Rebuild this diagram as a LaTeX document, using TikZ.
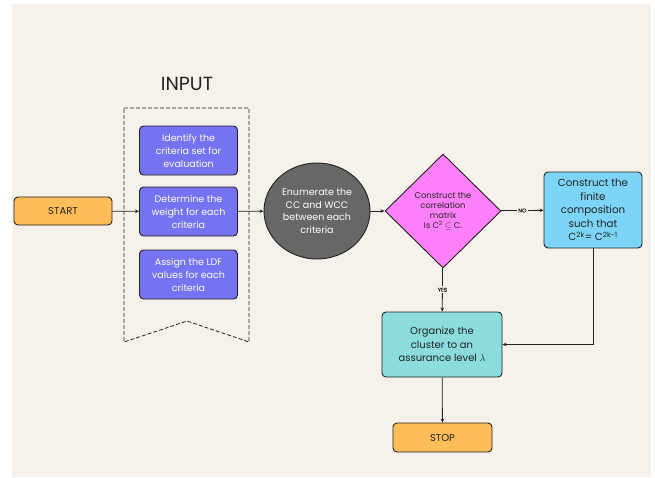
\documentclass[tikz,border=0pt]{standalone}
\usepackage{fontspec}
\setmainfont{Poppins}[AutoFakeBold=0.4]
\usetikzlibrary{shapes.geometric,arrows.meta}
\definecolor{paper}{HTML}{F6F1EA}
\definecolor{ink}{HTML}{222222}
\definecolor{startc}{HTML}{FFBD59}
\definecolor{inputc}{HTML}{7573F2}
\definecolor{greyc}{HTML}{676767}
\definecolor{pinkc}{HTML}{FF80FA}
\definecolor{bluec}{HTML}{7CD5F7}
\definecolor{tealc}{HTML}{8BDCDC}
\tikzset{
  flow/.style={draw=ink, line width=0.9pt, align=center, inner sep=0pt, text=ink},
  box/.style={flow, rounded corners=4pt},
  inbox/.style={box, fill=inputc, text=white, minimum width=98pt, minimum height=49pt,
    font=\fontsize{9.5}{13}\selectfont},
  link/.style={draw=ink, line width=0.8pt, -{Stealth[length=4pt,width=3.5pt]}},
  tag/.style={fill=paper, inner sep=1.5pt, text=ink, font=\fontsize{5.5}{6}\selectfont\bfseries}
}
\begin{document}
\begin{tikzpicture}[x=1pt, y=-1pt]
  \useasboundingbox (0,0) rectangle (655,477);
  \fill[paper] (12,4) rectangle (651,477);

  % input banner
  \node[text=ink, font=\fontsize{19}{22}\selectfont] (title) at (187,84) {INPUT};
  \draw[ink, dash pattern=on 4pt off 2pt, line width=0.8pt] (124,108) -- (249,108) -- (249,342) -- (187,321) -- (124,342) -- cycle;
  \foreach \n/\y/\t in {in1/150.5/{Identify the\\criteria set for\\evaluation},
                        in2/211.5/{Determine the\\weight for each\\criteria},
                        in3/274.5/{Assign the LDF\\values for each\\criteria}} {
    \node[inbox] (\n) at (188.5,\y) {\t};
  }

  \node[box, fill=startc, minimum width=98pt, minimum height=28pt,
    font=\fontsize{10}{11}\selectfont] (start) at (63,211) {START};
  \node[flow, ellipse, fill=greyc, text=white, minimum width=106pt, minimum height=96pt,
    font=\fontsize{9.5}{12.5}\selectfont] (enum) at (317,211)
    {Enumerate the\\CC and WCC\\between each\\criteria};
  \node[flow, diamond, fill=pinkc, minimum width=116pt, minimum height=114pt,
    font=\fontsize{8.3}{10}\selectfont] (check) at (443,211)
    {Construct the\\correlation\\matrix\\Is C\textsuperscript{2} $\subseteq$ C.};
  \node[box, fill=bluec, minimum width=98pt, minimum height=76pt,
    font=\fontsize{10.3}{13.5}\selectfont] (comp) at (593,210)
    {Construct the\\finite\\composition\\such that\\C\textsuperscript{2k}= C\textsuperscript{2k-1}};
  \node[box, fill=tealc, minimum width=120pt, minimum height=65pt,
    font=\fontsize{10}{13.5}\selectfont] (org) at (442,344.5)
    {Organize the\\cluster to an\\assurance level $\lambda$};
  \node[box, fill=startc, minimum width=99pt, minimum height=29pt,
    font=\fontsize{10}{11}\selectfont] (stop) at (442.5,437.5) {STOP};

  \draw[link] (start) -- (in2);
  \draw[link] (in2) -- (enum);
  \draw[link] (enum) -- (check);
  \draw[link] (check) -- node[tag] {NO} (comp);
  \draw[link] (check) -- node[tag] {YES} (org);
  \draw[link] (comp.south) |- (org.east);
  \draw[link] (org) -- (stop);
\end{tikzpicture}
\end{document}
